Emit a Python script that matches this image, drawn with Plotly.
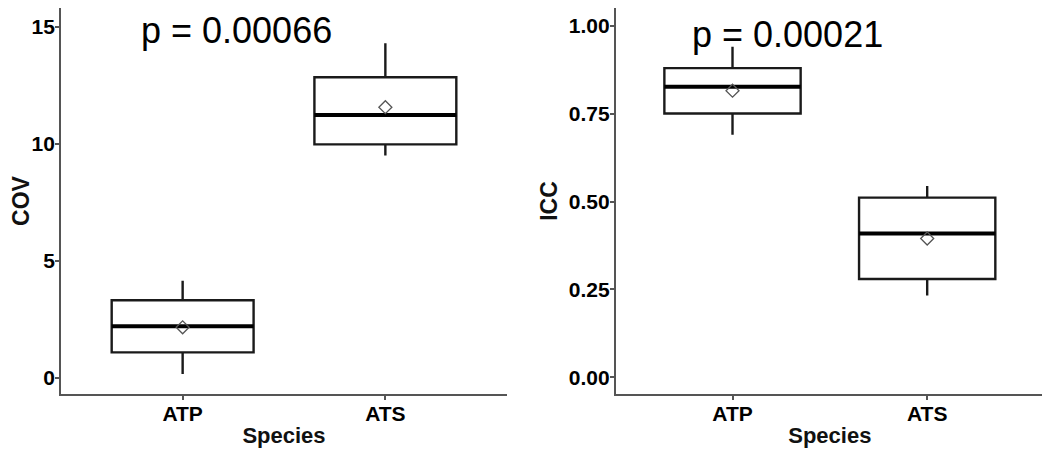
import plotly.graph_objects as go

species = ["ATP", "ATS"]

cov_q1 = [1.08, 9.97]
cov_median = [2.20, 11.23]
cov_q3 = [3.31, 12.84]
cov_low = [0.16, 9.50]
cov_high = [4.14, 14.29]
cov_mean = [2.15, 11.56]
cov_ticks = [0, 5, 10, 15]
cov_p = "p = 0.00066"

icc_q1 = [0.750, 0.280]
icc_median = [0.826, 0.409]
icc_q3 = [0.879, 0.511]
icc_low = [0.690, 0.233]
icc_high = [0.940, 0.544]
icc_mean = [0.815, 0.395]
icc_ticks = [0.00, 0.25, 0.50, 0.75, 1.00]
icc_tick_labels = ["0.00", "0.25", "0.50", "0.75", "1.00"]
icc_p = "p = 0.00021"

FONT = "Liberation Sans"
BOX_W = 0.7
pos = [i + 1 for i in range(len(species))]

# page has an 8px body margin; figure sized to fill the rest of the window
OFF = 8
W, H = 1050 - OFF, 456 - OFF
ML, MR, MT, MB = 61 - OFF, 6, 8 - OFF, 62
PW = W - ML - MR

fig = go.Figure()


def add_panel(q1, med, q3, lo, hi, mean, xa, ya):
    fig.add_trace(go.Box(
        x=pos, q1=q1, median=med, q3=q3, lowerfence=lo, upperfence=hi,
        width=BOX_W, whiskerwidth=0, fillcolor="white",
        line=dict(color="#1a1a1a", width=2.4), boxpoints=False,
        xaxis=xa, yaxis=ya, showlegend=False, hoverinfo="skip"))
    for p, m in zip(pos, med):
        fig.add_trace(go.Scatter(
            x=[p - BOX_W / 2, p + BOX_W / 2], y=[m, m], mode="lines",
            line=dict(color="black", width=4), xaxis=xa, yaxis=ya,
            showlegend=False, hoverinfo="skip"))
    fig.add_trace(go.Scatter(
        x=pos, y=mean, mode="markers",
        marker=dict(symbol="diamond-open", size=10, color="#555555",
                    line=dict(width=1.3, color="#555555")),
        xaxis=xa, yaxis=ya, showlegend=False, hoverinfo="skip"))


add_panel(cov_q1, cov_median, cov_q3, cov_low, cov_high, cov_mean, "x", "y")
add_panel(icc_q1, icc_median, icc_q3, icc_low, icc_high, icc_mean, "x2", "y2")


def axis_common(vals):
    return dict(
        showline=True, linecolor="#555555", linewidth=1.8,
        ticks="outside", ticklen=0, tickwidth=1.5, tickcolor="#555555",
        minor=dict(ticks="outside", ticklen=4, tickwidth=1.5, tickcolor="#555555",
                   tickvals=vals, showgrid=False),
        showgrid=False, zeroline=False, automargin=False,
        tickvals=vals,
        tickfont=dict(family=FONT, size=21, color="black", weight="bold"),
    )


def xdef():
    return dict(axis_common(pos), range=[0.4, 2.6], ticktext=species,
                title=dict(text="Species", standoff=4,
                           font=dict(family=FONT, size=22, color="#111111", weight="bold")))


fig.update_layout(
    width=W, height=H,
    margin=dict(l=ML, r=MR, t=MT, b=MB, autoexpand=False),
    paper_bgcolor="white", plot_bgcolor="white",
    xaxis=dict(xdef(), domain=[0, (507 - 61) / PW], anchor="y"),
    xaxis2=dict(xdef(), domain=[(615.7 - 61) / PW, 1], anchor="y2"),
    yaxis=dict(axis_common(cov_ticks), domain=[0, 1], anchor="x",
               range=[-0.7, 15.8],
               title=dict(text="COV", standoff=5,
                          font=dict(family=FONT, size=23, color="#111111", weight="bold"))),
    yaxis2=dict(axis_common(icc_ticks), domain=[0, 1], anchor="x2",
                range=[-0.047, 1.05], ticktext=icc_tick_labels,
                title=dict(text="ICC", standoff=5,
                           font=dict(family=FONT, size=23, color="#111111", weight="bold"))),
    annotations=[
        dict(text=cov_p, x=1.266, y=14.83, xref="x", yref="y", showarrow=False,
             xanchor="center", yanchor="middle",
             font=dict(family=FONT, size=36, color="black")),
        dict(text=icc_p, x=1.28, y=0.975, xref="x2", yref="y2", showarrow=False,
             xanchor="center", yanchor="middle",
             font=dict(family=FONT, size=36, color="black")),
    ],
)

fig.write_html("out.html")
